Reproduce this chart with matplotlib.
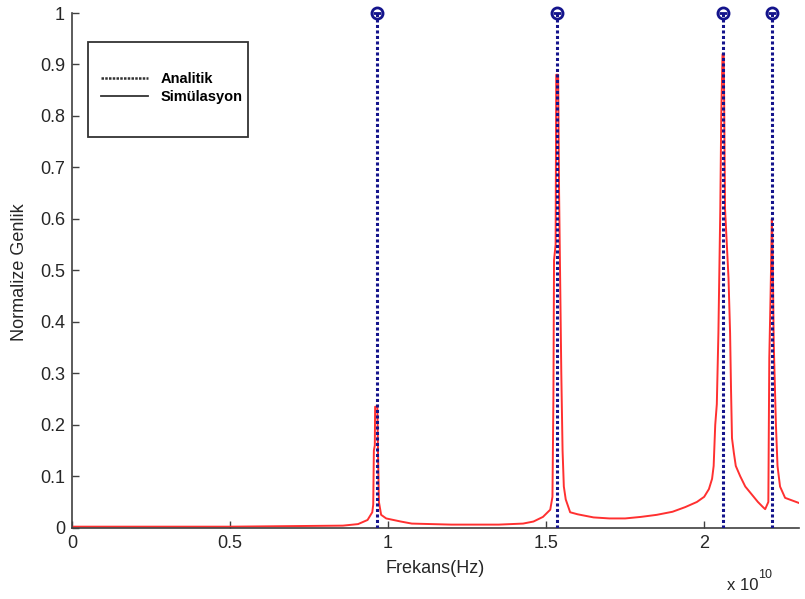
import matplotlib
matplotlib.use("Agg")
import matplotlib.pyplot as plt
from matplotlib import font_manager
from matplotlib.lines import Line2D
from matplotlib.patches import Rectangle
from matplotlib.ticker import FuncFormatter, MultipleLocator

# frequencies in units of 1e10 Hz
sim_freq = [0.0, 0.5, 0.857, 0.905, 0.935, 0.950, 0.953, 0.955, 0.958, 0.959,
            0.966, 0.968, 0.971, 0.978, 0.994, 1.04, 1.075, 1.20, 1.35, 1.427,
            1.46, 1.49, 1.513, 1.520, 1.523, 1.525, 1.530, 1.532, 1.538, 1.541,
            1.545, 1.548, 1.552, 1.556, 1.562, 1.576, 1.60, 1.65, 1.70, 1.75,
            1.80, 1.85, 1.90, 1.94, 1.977, 2.00, 2.015, 2.025, 2.030, 2.035,
            2.040, 2.045, 2.051, 2.054, 2.058, 2.062, 2.066, 2.077, 2.082, 2.085,
            2.088, 2.094, 2.10, 2.114, 2.13, 2.15, 2.17, 2.186, 2.193, 2.203,
            2.206, 2.210, 2.212, 2.214, 2.216, 2.217, 2.220, 2.227, 2.232, 2.240,
            2.256, 2.30]
sim_amp = [0.002, 0.002, 0.004, 0.007, 0.015, 0.030, 0.045, 0.15, 0.16, 0.235,
           0.235, 0.15, 0.05, 0.025, 0.018, 0.012, 0.008, 0.006, 0.006, 0.008,
           0.012, 0.021, 0.035, 0.06, 0.25, 0.52, 0.55, 0.88, 0.88, 0.65,
           0.45, 0.30, 0.15, 0.08, 0.055, 0.03, 0.026, 0.02, 0.018, 0.018,
           0.021, 0.025, 0.031, 0.04, 0.05, 0.06, 0.075, 0.095, 0.12, 0.20,
           0.24, 0.378, 0.62, 0.80, 0.92, 0.92, 0.62, 0.485, 0.378, 0.267,
           0.174, 0.145, 0.12, 0.10, 0.08, 0.065, 0.05, 0.04, 0.036, 0.05,
           0.33, 0.45, 0.52, 0.60, 0.56, 0.52, 0.36, 0.20, 0.12, 0.08,
           0.058, 0.048]

analytic_freq = [0.964, 1.535, 2.059, 2.214]
analytic_amp = [1.0, 1.0, 1.0, 1.0]

xticks = [0, 0.5, 1, 1.5, 2]
scale = 1e10

names = {f.name for f in font_manager.fontManager.ttflist}
narrow = "Liberation Sans Narrow" if "Liberation Sans Narrow" in names else "Liberation Sans"
txt = "#262626"

fig = plt.figure(figsize=(8.05, 5.99), dpi=100)
ax = fig.add_axes([72 / 805, 1 - 527.7 / 599, 727 / 805, 514.7 / 599])

xs = [f * scale for f in sim_freq]
ax.plot(xs, sim_amp, color="#ff3030", lw=1.4, zorder=2)

axs = [f * scale for f in analytic_freq]
ax.vlines(axs, 0, analytic_amp, colors="#14148c", lw=2.2,
          linestyles=(0, (1.0, 0.8)), zorder=3)
ax.plot(axs, analytic_amp, "o", ms=8, mfc="none", mec="#14148c", mew=2,
        clip_on=False, zorder=4)
ax.plot(axs, analytic_amp, "_", ms=6, mec="#14148c", mew=2,
        clip_on=False, zorder=4)

ax.set_xlim(0, 2.3 * scale)
ax.set_ylim(0, 1)
ax.set_xticks([t * scale for t in xticks])
ax.xaxis.set_major_formatter(FuncFormatter(lambda v, p: "%g" % (v / scale)))
ax.yaxis.set_major_locator(MultipleLocator(0.1))
ax.yaxis.set_major_formatter(FuncFormatter(lambda v, p: "%g" % round(v, 1)))

for side in ["top", "right"]:
    ax.spines[side].set_visible(False)
for side in ["left", "bottom"]:
    ax.spines[side].set_color("#404040")
    ax.spines[side].set_linewidth(1.2)

ax.tick_params(direction="in", length=5, width=1, color="#404040",
               labelsize=13, labelcolor=txt, pad=5)
for lab in ax.get_xticklabels() + ax.get_yticklabels():
    lab.set_family(narrow)

ax.set_xlabel("Frekans(Hz)", family=narrow, fontsize=13, color=txt, labelpad=6)
fig.text(20 / 805, 1 - 272 / 599, "Normalize Genlik", rotation=90,
         family="Liberation Sans", fontsize=13, color=txt,
         ha="center", va="center")

fig.text(727 / 805, 1 - 590 / 599, "x 10", family=narrow, fontsize=12,
         color=txt, ha="left", va="baseline")
fig.text(758 / 805, 1 - 578 / 599, "10", family=narrow, fontsize=9,
         color=txt, ha="left", va="baseline")

# legend box
fig.patches.append(Rectangle((88 / 805, 1 - 137 / 599), 160 / 805, 95 / 599,
                             transform=fig.transFigure, fill=False,
                             edgecolor="#333333", lw=1.3, zorder=5))
handles = [Line2D([], [], color="#333333", lw=1.8, ls=(0, (1.0, 0.5))),
           Line2D([], [], color="#333333", lw=1.3)]
ax.legend(handles, ["Analitik", "Simülasyon"], loc="center",
          bbox_to_anchor=(172 / 805, 1 - 88 / 599),
          bbox_transform=fig.transFigure, frameon=False,
          prop={"family": "Liberation Sans", "weight": "bold", "size": 10.5},
          handlelength=3.2, handletextpad=0.9, labelspacing=0.25)

fig.savefig("out.png", dpi=100)
